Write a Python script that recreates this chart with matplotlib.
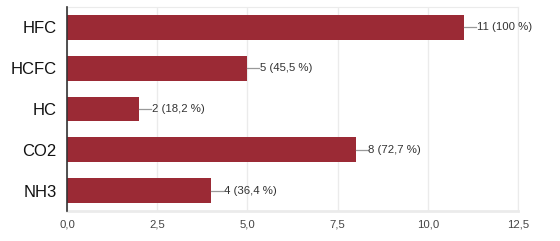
import matplotlib.pyplot as plt

plt.rcParams['font.family'] = ['Liberation Sans', 'DejaVu Sans']

categories = ['HFC', 'HCFC', 'HC', 'CO2', 'NH3']
counts = [11, 5, 2, 8, 4]
labels = ['11 (100 %)', '5 (45,5 %)', '2 (18,2 %)', '8 (72,7 %)', '4 (36,4 %)']
xticks = [0, 2.5, 5, 7.5, 10, 12.5]
xtick_labels = ['0,0', '2,5', '5,0', '7,5', '10,0', '12,5']

fig = plt.figure(figsize=(5.6, 2.41), dpi=100)
ax = fig.add_axes([67/560, 1 - 211/241, (518 - 67)/560, (211 - 7)/241])

ypos = list(range(len(categories)))
ax.barh(ypos, counts, height=0.61, color='#9b2a35', zorder=3)

for y, v, lab in zip(ypos, counts, labels):
    ax.plot([v, v + 0.33], [y, y], color='#999999', lw=0.9, zorder=3)
    ax.text(v + 0.35, y, lab, va='center', ha='left', fontsize=8.2,
            color='#333333', zorder=4)

ax.set_xlim(0, 12.5)
ax.set_ylim(len(categories) - 0.5, -0.5)
ax.set_yticks(ypos)
ax.set_yticklabels(categories, fontsize=12, color='#111111')
ax.set_xticks(xticks)
ax.set_xticklabels(xtick_labels, fontsize=8.2, color='#444444')
ax.tick_params(axis='both', length=0)
ax.tick_params(axis='y', pad=7.5)
ax.tick_params(axis='x', pad=6)

ax.grid(axis='x', color='#ebebeb', lw=1, zorder=0)
for side in ['top', 'right']:
    ax.spines[side].set_color('#ebebeb')
ax.spines['bottom'].set_color('#ebebeb')
ax.spines['bottom'].set_linewidth(2)
ax.spines['left'].set_color('#333333')
ax.spines['left'].set_linewidth(1.2)
ax.spines['left'].set_zorder(5)

fig.savefig('out.png', dpi=100)
